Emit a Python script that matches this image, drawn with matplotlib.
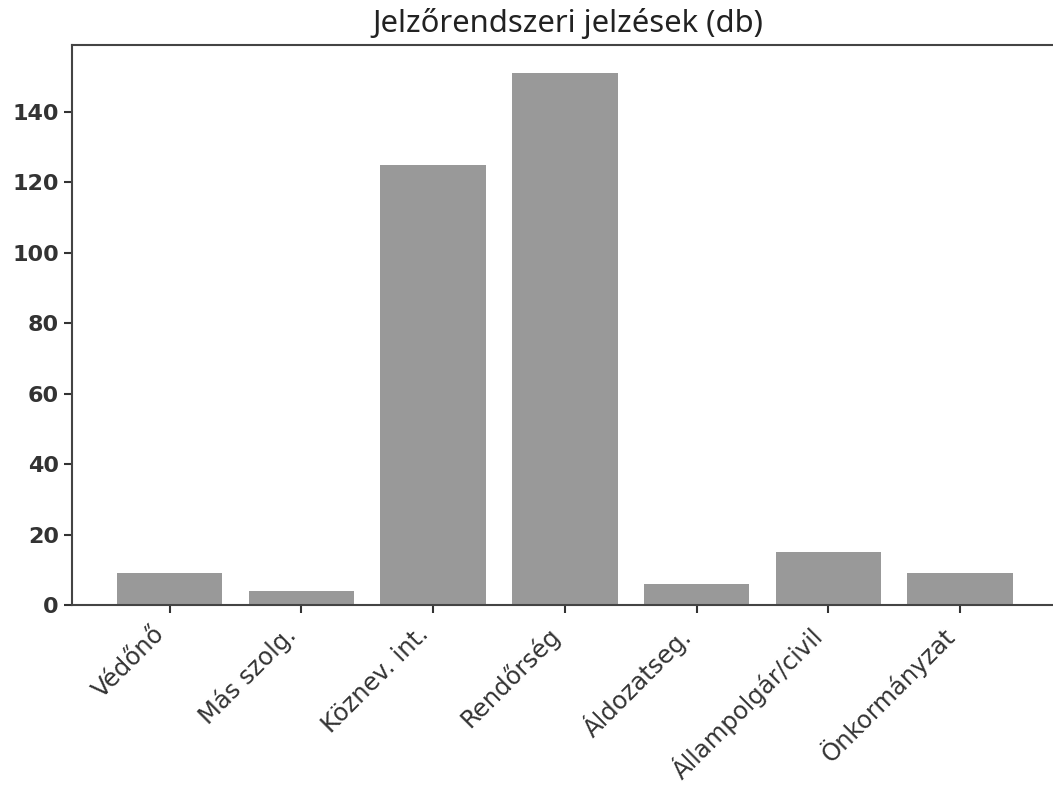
import matplotlib
matplotlib.use("Agg")
import matplotlib.pyplot as plt

categories = ["Védőnő", "Más szolg.", "Köznev. int.", "Rendőrség",
              "Áldozatseg.", "Állampolgár/civil", "Önkormányzat"]
values = [9, 4, 125, 151, 6, 15, 9]
yticks = [0, 20, 40, 60, 80, 100, 120, 140]
title = "Jelzőrendszeri jelzések (db)"

fig = plt.figure(figsize=(10.53, 7.86), dpi=100)
ax = fig.add_axes([0.0684, 0.2303, 0.936, 0.7125])

x = list(range(len(categories)))
ax.bar(x, values, width=0.8, color="#999999")
ax.set_xlim(-0.74, 6.74)
ax.set_ylim(0, 159)
ax.set_yticks(yticks)
ax.set_xticks(x)
ax.set_xticklabels(categories, rotation=45, ha="right", rotation_mode="default",
                   fontsize=17.5, color="#333333")
for lab in ax.get_yticklabels():
    lab.set_fontsize(16)
    lab.set_fontweight("bold")
    lab.set_color("#333333")
ax.tick_params(axis="both", length=6, width=1.5, color="#333333")
ax.tick_params(axis="x", pad=6)
for s in ax.spines.values():
    s.set_color("#444444")
    s.set_linewidth(1.5)

fig.text(0.539, 0.970, title, ha="center", va="center", fontsize=22.3,
         color="#222222", family=["Noto Sans", "DejaVu Sans"])

fig.savefig("out.png", dpi=100)
